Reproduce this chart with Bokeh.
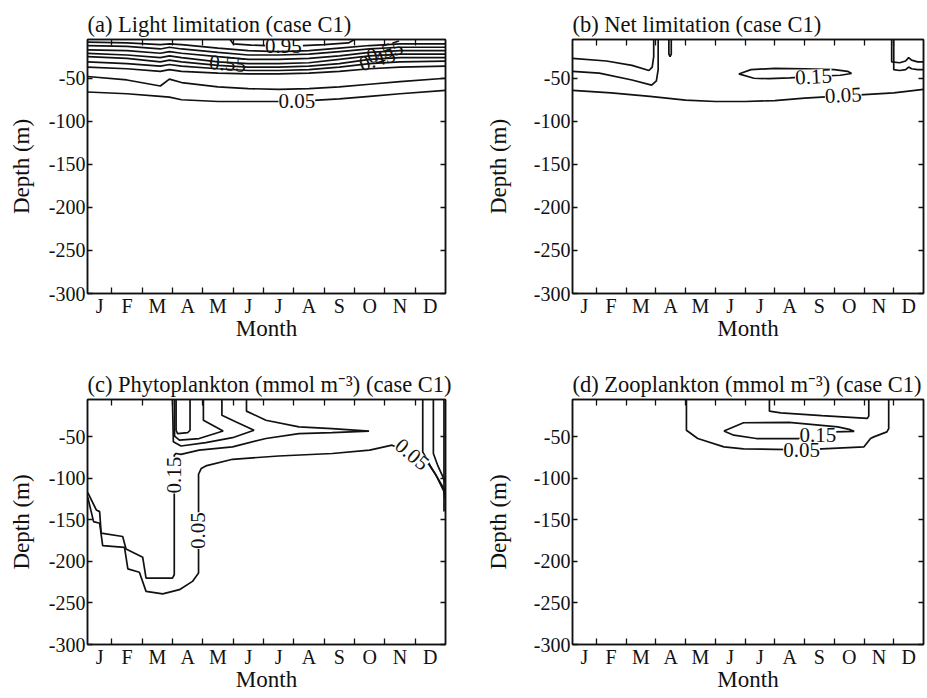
import numpy as np
from bokeh.plotting import figure
from bokeh.models import (Range1d, FixedTicker, LinearAxis, ColumnDataSource,
                          LabelSet, CustomJSTickFormatter)
from bokeh.layouts import column, row
from bokeh.core.properties import value
from bokeh.embed import file_html
from bokeh.resources import INLINE

NAN = float("nan")
FONT = "Liberation Serif"
INK = "#111111"

# ---------------- axes data ----------------
MONTHS = ["J", "F", "M", "A", "M", "J", "J", "A", "S", "O", "N", "D"]
MONTH_CENTERS = [0.6, 1.5, 2.5, 3.5, 4.5, 5.5, 6.5, 7.5, 8.5, 9.5, 10.5, 11.5]
MONTH_EDGES = [1, 2, 3, 4, 5, 6, 7, 8, 9, 10, 11]
DEPTH_TICKS = [-300, -250, -200, -150, -100, -50]
X_START, X_END = 0.2, 12.0
DEPTH_TOP, DEPTH_BOTTOM = -5, -300

# ---------------- (a) Light limitation ----------------
A_X = [0.2, 1.5, 2.6, 2.9, 3.3, 4.5, 5.5, 6.5, 7.5, 8.5, 9.5, 10.5, 12.0]
A_085 = [-8, -9, -11, -10, -11, -15, -18, -19, -18, -15, -12, -10, -10]
A_075 = [-12, -13, -16, -14, -16, -20, -23, -23, -22, -19, -16, -14, -14]
A_065 = [-17, -18, -21, -19, -21, -25, -28, -28, -27, -24, -20, -18, -18]
A_055 = [-21, -23, -26, -24, -26, -31, -33, -33, -32, -28, -24, -22, -22]
A_045 = [-25, -27, -31, -29, -31, -35, -37, -37, -36, -33, -28, -26, -26]
A_035 = [-31, -33, -36, -34, -36, -39, -41, -41, -40, -37, -33, -31, -30]
A_025 = [-37, -39, -42, -40, -42, -44, -45, -45, -44, -42, -39, -37, -36]
A_015 = [-48, -52, -59, -51, -55, -60, -62, -63, -62, -60, -57, -54, -50]
A_005 = [-66, -68, -71, -72, -75, -77, -77, -77, -76, -74, -71, -68, -64]
A_095_X = [4.9, 5.0, 5.6, 6.05, NAN, 7.3, 8.0, 8.8, 9.0]
A_095_D = [-5, -10, -11.5, -12, NAN, -12, -11, -9, -5]
A_LAB_X = [6.66, 4.82, 10.0, 9.75, 7.1]
A_LAB_Y = [-12.5, -33, -19, -28, -77]
A_LAB_T = ["0.95", "0.55", "0.55", "0.45", "0.05"]
A_LAB_ANG = [0.0, -0.08, 0.3, 0.3, 0.0]
A_LAB_BG = [False, False, False, False, True]

# ---------------- (b) Net limitation ----------------
B_L1_X = [0.2, 1.34, 2.2, 2.77, 2.88, 2.93, 2.93]
B_L1_D = [-27, -30, -35, -41, -37, -25, -5]
B_L2_X = [0.2, 1.1, 2.2, 2.86, 3.02, 3.08, 3.08]
B_L2_D = [-42, -44, -52, -58, -53, -40, -5]
B_SP_X = [3.44, 3.44, 3.48, 3.52, 3.52]
B_SP_D = [-5, -22, -25, -22, -5]
B_015_X = [5.79, 6.2, 7.0, 8.0, 9.0, 9.45, 9.58, 9.2, 8.3, 7.5, 6.8, 6.3, 5.79]
B_015_D = [-45, -40, -38.5, -39, -40, -42, -44.5, -46.5, -48, -49.5, -50.5, -50, -45]
B_005_X = [0.2, 1.5, 2.8, 4.0, 5.0, 6.0, 7.0, 8.0, 9.0, 10.0, 11.0, 12.0]
B_005_D = [-64, -67, -71, -75.5, -77, -77, -76, -73, -71, -69, -67, -63]
B_R1_X = [10.93, 10.93, 11.2, 11.4, 11.5, 11.6, 11.8, 12.0]
B_R1_D = [-5, -31, -32, -30, -26, -29, -31, -31]
B_R2_X = [11.0, 11.0, 11.2, 11.4, 11.5, 11.6, 11.8, 12.0]
B_R2_D = [-5, -40, -41, -40, -37, -39, -40, -40]
B_LAB_X = [8.3, 9.3]
B_LAB_Y = [-48, -69.5]
B_LAB_T = ["0.15", "0.05"]
B_LAB_ANG = [0.05, 0.05]

# ---------------- (c) Phytoplankton ----------------
C_L1_X = [3.58, 3.58, 3.5, 3.17, 3.12, 3.12]
C_L1_D = [-5, -42, -45, -46, -42, -5]
C_L2_X = [4.02, 4.02, 4.67, 3.88, 3.23, 3.07, 3.07]
C_L2_D = [-5, -30, -43, -52, -54, -49, -5]
C_L3_X = [4.63, 4.63, 5.1, 5.69, 4.98, 4.1, 3.28, 3.03, 3.0]
C_L3_D = [-5, -24, -32, -42, -51, -57, -61, -56, -5]
C_015_X = [0.21, 0.49, 0.6, 0.65, 1.36, 1.47, 2.02, 2.13, 3.0, 3.06, 3.06, 3.12,
           3.28, 3.88, 4.98, 6.08, 7.17, 8.26, 9.48, 8.26, 7.17, 6.08, 5.44, 5.44]
C_015_D = [-117, -138, -140, -166, -170, -185, -195, -220, -220, -216, -72, -70,
           -71, -66, -62, -52, -46, -45, -43, -40, -38, -30, -19, -5]
C_005_X = [0.21, 0.4, 0.6, 0.7, 1.42, 1.53, 1.91, 2.13, 2.68, 3.23, 3.66, 3.86,
           3.86, 3.95, 4.1, 4.98, 6.5, 8.27, 9.5, 10.24, 10.6, 11.2, 11.45,
           11.67, 11.94, 12.0]
C_005_D = [-123, -152, -154, -181, -183, -209, -213, -236, -239, -234, -224, -214,
           -95, -88, -85, -77, -73, -70, -66, -60, -66, -78, -83, -95, -115, -125]
C_R1_X = [11.25, 11.25, 11.5, 11.75, 12.0]
C_R1_D = [-5, -68, -85, -100, -116]
C_R2_X = [11.6, 11.6, 11.75, 11.9, 12.0]
C_R2_D = [-5, -70, -85, -97, -105]
C_R3_X = [11.95, 11.95]
C_R3_D = [-5, -140]
C_LAB_X = [3.06, 3.84, 10.9]
C_LAB_Y = [-96, -163, -71]
C_LAB_T = ["0.15", "0.05", "0.05"]
C_LAB_ANG = [1.5708, 1.5708, -0.7]

# ---------------- (d) Zooplankton ----------------
D_005_X = [4.03, 4.03, 4.41, 5.29, 5.95, 7.0, 8.0, 8.58, 10.0, 10.22, 10.33,
           10.77, 10.83, 10.83]
D_005_D = [-5, -42, -52, -62, -64.5, -65, -65.5, -64.5, -62, -52, -50, -44, -40, -5]
D_UP_X = [6.82, 6.82, 7.2, 8.58, 10.11, 10.16, 10.16]
D_UP_D = [-5, -19, -21, -24.5, -27.7, -25, -5]
D_015_X = [5.29, 5.95, 7.48, 9.12, 9.5, 9.67, 9.0, 8.4, 7.81, 6.38, 5.62, 5.29]
D_015_D = [-43, -33, -32.5, -38, -41, -43.3, -44, -46, -52, -52, -48, -43]
D_LAB_X = [8.45, 7.9]
D_LAB_Y = [-48, -66]
D_LAB_T = ["0.15", "0.05"]
D_LAB_ANG = [0.0, 0.0]


def style_axis(ax):
    ax.axis_line_color = INK
    ax.axis_line_width = 1.5
    ax.major_tick_line_color = INK
    ax.minor_tick_line_color = INK
    ax.major_tick_line_width = 1.3
    ax.minor_tick_line_width = 1.3
    ax.major_tick_in = 0
    ax.major_tick_out = 0
    ax.minor_tick_in = 0
    ax.minor_tick_out = 0
    ax.major_label_text_font = FONT
    ax.major_label_text_font_size = "20px"
    ax.major_label_text_color = INK
    ax.axis_label_text_font = FONT
    ax.axis_label_text_font_size = "23px"
    ax.axis_label_text_font_style = "normal"
    ax.axis_label_text_color = INK


def panel(title, width, height, bl, br, bt, bb, ylab_standoff):
    p = figure(width=width, height=height,
               x_range=Range1d(X_START, X_END),
               y_range=Range1d(DEPTH_BOTTOM, DEPTH_TOP),
               output_backend="svg", toolbar_location=None,
               x_axis_label="Month", y_axis_label="Depth (m)",
               min_border_left=bl, min_border_right=br,
               min_border_top=bt, min_border_bottom=bb)
    p.title.text = title
    p.title.text_font = FONT
    p.title.text_font_size = "22.5px"
    p.title.text_font_style = "normal"
    p.title.text_color = INK
    p.title.align = "left"
    p.title.offset = 0
    p.title.standoff = 6
    p.grid.visible = False
    p.outline_line_color = INK
    p.outline_line_width = 1.5
    p.background_fill_color = "white"
    p.border_fill_color = "white"

    xa = p.xaxis[0]
    style_axis(xa)
    xa.ticker = FixedTicker(ticks=MONTH_CENTERS, minor_ticks=MONTH_EDGES)
    xa.formatter = CustomJSTickFormatter(args=dict(names=MONTHS),
                                         code="return names[Math.floor(tick)];")
    xa.major_tick_line_color = None
    xa.minor_tick_in = 6
    xa.major_label_standoff = 1
    xa.axis_label_standoff = -4

    ya = p.yaxis[0]
    style_axis(ya)
    ya.ticker = FixedTicker(ticks=DEPTH_TICKS, minor_ticks=[])
    ya.formatter = CustomJSTickFormatter(code="return tick.toFixed(0);")
    ya.major_tick_in = 5
    ya.minor_tick_line_color = None
    ya.major_label_standoff = 2
    ya.axis_label_standoff = ylab_standoff

    top = LinearAxis(ticker=FixedTicker(ticks=MONTH_CENTERS, minor_ticks=MONTH_EDGES),
                     formatter=CustomJSTickFormatter(code="return '';"))
    style_axis(top)
    top.major_tick_line_color = None
    top.minor_tick_in = 6
    top.major_label_text_font_size = "0px"
    top.major_label_standoff = 0
    p.add_layout(top, "above")

    right = LinearAxis(ticker=FixedTicker(ticks=DEPTH_TICKS, minor_ticks=[]),
                       formatter=CustomJSTickFormatter(code="return '';"))
    style_axis(right)
    right.major_tick_in = 5
    right.minor_tick_line_color = None
    right.major_label_text_font_size = "0px"
    right.major_label_standoff = 0
    p.add_layout(right, "right")
    return p


def lines(p, pairs):
    for xs, ys in pairs:
        p.line(x=np.array(xs, dtype=float), y=np.array(ys, dtype=float),
               line_color=INK, line_width=1.7)


def labels(p, xs, ys, texts, angles, bg):
    src = ColumnDataSource(dict(x=xs, y=ys, text=texts, angle=angles))
    ls = LabelSet(x="x", y="y", text="text", angle="angle", source=src,
                  text_font=value(FONT), text_font_size=value("21px"),
                  text_align=value("center"), text_baseline=value("middle"),
                  text_color=INK,
                  background_fill_color="white" if bg else None)
    p.add_layout(ls)


# outer sizes
W_LEFT, W_RIGHT = 477, 448
H_TOP, H_BOT = 366, 328

pa = panel("(a) Light limitation (case C1)", W_LEFT, H_TOP, 87, 32, 39, 73, 12)
lines(pa, [(A_X, A_085), (A_X, A_075), (A_X, A_065), (A_X, A_055), (A_X, A_045),
           (A_X, A_035), (A_X, A_025), (A_X, A_015), (A_X, A_005),
           (A_095_X, A_095_D)])
idx_nobg = [i for i, b in enumerate(A_LAB_BG) if not b]
idx_bg = [i for i, b in enumerate(A_LAB_BG) if b]
labels(pa, [A_LAB_X[i] for i in idx_nobg], [A_LAB_Y[i] for i in idx_nobg],
       [A_LAB_T[i] for i in idx_nobg], [A_LAB_ANG[i] for i in idx_nobg], False)
labels(pa, [A_LAB_X[i] for i in idx_bg], [A_LAB_Y[i] for i in idx_bg],
       [A_LAB_T[i] for i in idx_bg], [A_LAB_ANG[i] for i in idx_bg], True)

pb = panel("(b) Net limitation (case C1)", W_RIGHT, H_TOP, 95, 2, 39, 73, 20)
lines(pb, [(B_L1_X, B_L1_D), (B_L2_X, B_L2_D), (B_SP_X, B_SP_D),
           (B_015_X, B_015_D), (B_005_X, B_005_D), (B_R1_X, B_R1_D),
           (B_R2_X, B_R2_D)])
labels(pb, B_LAB_X, B_LAB_Y, B_LAB_T, B_LAB_ANG, True)

pc = panel("(c) Phytoplankton (mmol m\u207b\u00b3) (case C1)", W_LEFT, H_BOT, 87, 32, 31, 50, 12)
lines(pc, [(C_L1_X, C_L1_D), (C_L2_X, C_L2_D), (C_L3_X, C_L3_D),
           (C_015_X, C_015_D), (C_005_X, C_005_D), (C_R1_X, C_R1_D),
           (C_R2_X, C_R2_D), (C_R3_X, C_R3_D)])
labels(pc, C_LAB_X, C_LAB_Y, C_LAB_T, C_LAB_ANG, True)

pd_ = panel("(d) Zooplankton (mmol m\u207b\u00b3) (case C1)", W_RIGHT, H_BOT, 95, 2, 31, 50, 20)
lines(pd_, [(D_005_X, D_005_D), (D_UP_X, D_UP_D), (D_015_X, D_015_D)])
labels(pd_, D_LAB_X, D_LAB_Y, D_LAB_T, D_LAB_ANG, True)

layout = column(row(pa, pb), row(pc, pd_))
open("out.html", "w").write(file_html(layout, INLINE))
